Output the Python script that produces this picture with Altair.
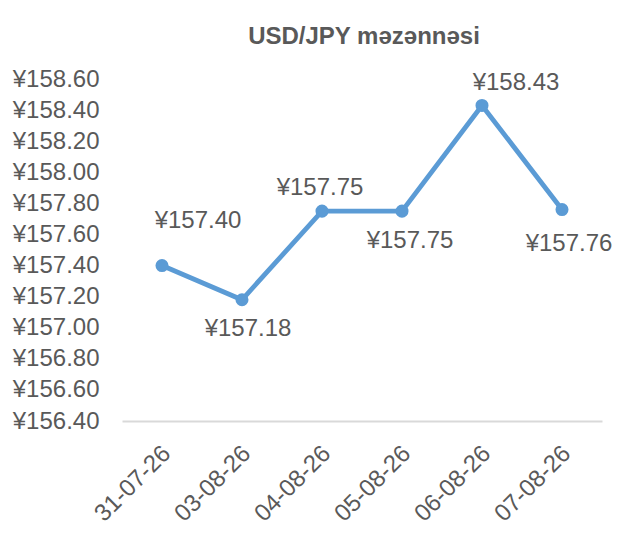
import altair as alt
import pandas as pd

dates = ["31-07-26", "03-08-26", "04-08-26", "05-08-26", "06-08-26", "07-08-26"]
rates = [157.40, 157.18, 157.75, 157.75, 158.43, 157.76]

df = pd.DataFrame({"date": dates, "rate": rates})
df["label"] = ["¥{:.2f}".format(v) for v in rates]

GREY = "#595959"
BLUE = "#5B9BD5"
FONT = "Liberation Sans"

x = alt.X("date:N", sort=dates, title=None,
          scale=alt.Scale(type="point", padding=0.5),
          axis=alt.Axis(labelAngle=-45, labelFontSize=24, labelColor=GREY,
                        labelFont=FONT, ticks=False,
                        domainColor="#D9D9D9", domainWidth=2,
                        labelPadding=20, labelOffset=-4))
y = alt.Y("rate:Q", title=None,
          scale=alt.Scale(domain=[156.4, 158.6], zero=False, nice=False),
          axis=alt.Axis(values=[156.4 + 0.2 * i for i in range(12)],
                        labelExpr="'¥' + format(datum.value, '.2f')",
                        labelFontSize=24, labelColor=GREY, labelFont=FONT,
                        grid=False, domain=False, ticks=False, labelPadding=23))

base = alt.Chart(df).encode(x=x, y=y)
line = base.mark_line(color=BLUE, strokeWidth=4.8)
pts = base.mark_point(color=BLUE, filled=True, size=170, opacity=1)

offsets = [(36, -45), (6, 29), (-2, -23), (8, 30), (34, -22), (7, 34)]
texts = []
for d, (dx, dy) in zip(dates, offsets):
    texts.append(
        base.transform_filter(alt.datum.date == d)
        .mark_text(fontSize=24, color=GREY, font=FONT, dx=dx, dy=dy)
        .encode(text="label:N")
    )

chart = alt.layer(line, pts, *texts).properties(
    width=480, height=342,
    title=alt.TitleParams("USD/JPY məzənnəsi", fontSize=24, fontWeight="bold",
                          color=GREY, font=FONT, anchor="middle", offset=18, dx=2),
    autosize=alt.AutoSizeParams(type="none"),
    padding={"left": 114, "top": 71, "right": 19, "bottom": 109},
).configure_view(stroke=None)

chart.save("out.html", embed_options={"renderer": "svg", "actions": False})
